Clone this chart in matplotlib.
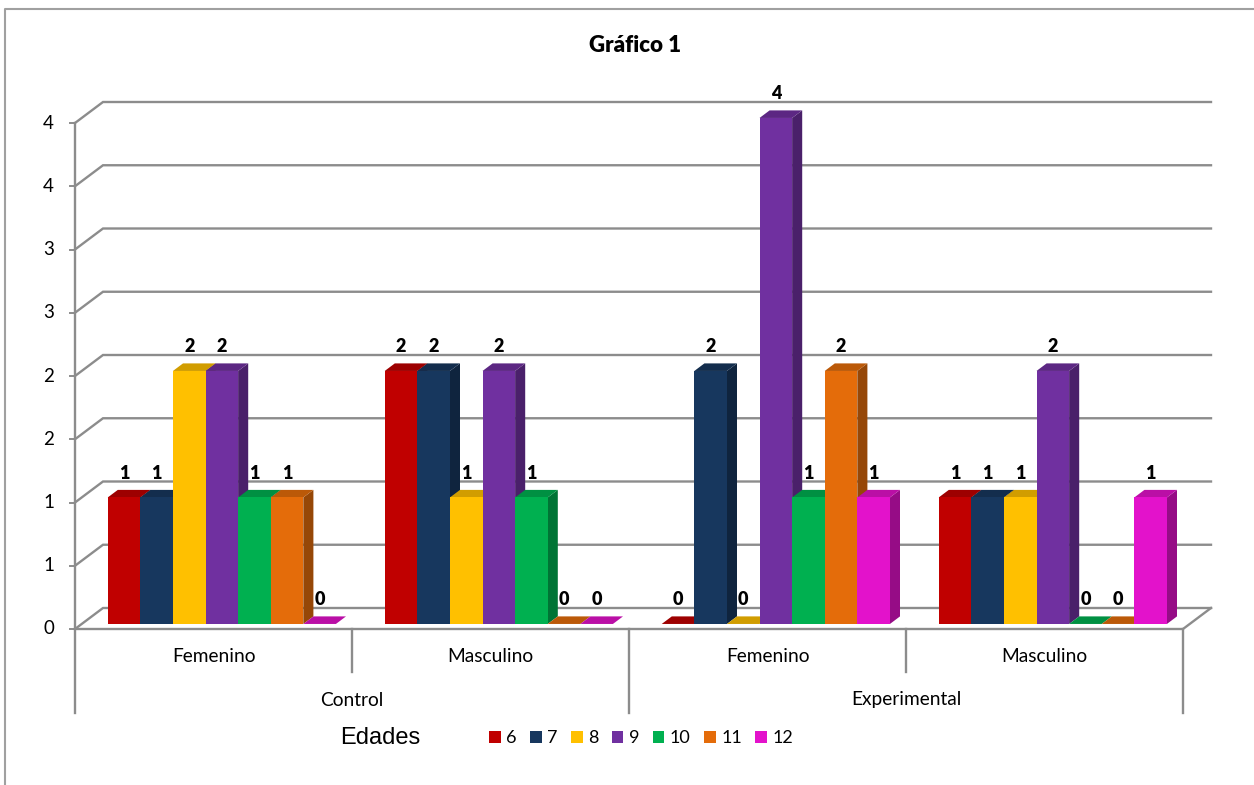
import matplotlib
matplotlib.use("Agg")
import numpy as np
import matplotlib.pyplot as plt
from matplotlib.patches import Polygon, Patch
from matplotlib.lines import Line2D
from matplotlib.colors import to_rgb

plt.rcParams['font.family'] = ['Lato', 'DejaVu Sans']

# datos
edades = ['6', '7', '8', '9', '10', '11', '12']
sexos = ['Femenino', 'Masculino', 'Femenino', 'Masculino']
grupos = ['Control', 'Experimental']
control_fem = [1, 1, 2, 2, 1, 1, 0]
control_masc = [2, 2, 1, 2, 1, 0, 0]
exp_fem = [0, 2, 0, 4, 1, 2, 1]
exp_masc = [1, 1, 1, 2, 0, 0, 1]
valores = [control_fem, control_masc, exp_fem, exp_masc]
y_ticks = [0, 0.5, 1, 1.5, 2, 2.5, 3, 3.5, 4]
colores = ['#C00000', '#17375E', '#FFC000', '#7030A0', '#00B050', '#E46C0A', '#E312CB']

W, H, DPI = 1254, 785, 100
GRIS = '#8c8c8c'

fig = plt.figure(figsize=(W / DPI, H / DPI), dpi=DPI)
ax = fig.add_axes([75 / W, 1 - 629 / H, 1108 / W, 506 / H])
ax.set_xlim(0, len(sexos))
ax.set_ylim(0, 4)
ax.axis('off')

# tamaño de un pixel en unidades de datos
px_x = len(sexos) / 1108
px_y = 4 / 506

# profundidad de la pared (efecto 3D)
DX, DY = 28 * px_x, 21 * px_y
F0, F1 = 0.24, 0.36          # posicion y fondo de las barras
BW = 32.6 * px_x              # ancho de barra
PAD = 26 * px_x


def oscuro(c, f):
    return tuple(np.array(to_rgb(c)) * f)


# lineas de division (pared del fondo)
for v in y_ticks:
    ax.plot([0, DX, len(sexos) + DX], [v + 0, v + DY, v + DY], color=GRIS, lw=1.7,
            clip_on=False, zorder=1, solid_joinstyle='miter')
    ax.plot([-5 * px_x, 0], [v, v], color=GRIS, lw=1.4, clip_on=False, zorder=1)
    ax.text(-21 * px_x, v, '%d' % np.floor(v + 0.5), ha='right', va='center',
            fontsize=13.5, color='black')

# piso
ax.plot([0, len(sexos), len(sexos) + DX], [0, 0, DY], color=GRIS, lw=1.7,
        clip_on=False, zorder=1)
ax.plot([0, 0], [-84 * px_y, 4], color=GRIS, lw=1.7, clip_on=False, zorder=1)
for k in range(1, len(sexos) + 1):
    largo = 84 if k % 2 == 0 else 43
    ax.plot([k, k], [0, -largo * px_y], color=GRIS, lw=1.7, clip_on=False, zorder=1)

# barras
for c, serie in enumerate(valores):
    for i, v in enumerate(serie):
        x0 = c + PAD + i * BW + F0 * DX
        y0 = F0 * DY
        dx, dy = F1 * DX, F1 * DY
        col = colores[i]
        ax.add_patch(Polygon([(x0 + BW, y0), (x0 + BW + dx, y0 + dy),
                              (x0 + BW + dx, y0 + v + dy), (x0 + BW, y0 + v)],
                             closed=True, facecolor=oscuro(col, 0.66), edgecolor='none',
                             clip_on=False, zorder=3))
        ax.add_patch(Polygon([(x0, y0 + v), (x0 + BW, y0 + v),
                              (x0 + BW + dx, y0 + v + dy), (x0 + dx, y0 + v + dy)],
                             closed=True, facecolor=oscuro(col, 0.82), edgecolor='none',
                             clip_on=False, zorder=3))
        ax.bar(x0, v, width=BW, bottom=y0, align='edge', color=col, clip_on=False, zorder=3)
        ax.annotate(str(v), (x0 + BW / 2, y0 + v), xytext=(0, 17.5), textcoords='offset points',
                    ha='center', va='center', fontsize=13, fontweight='heavy',
                    annotation_clip=False, zorder=5)

# etiquetas de categorias
for k, s in enumerate(sexos):
    ax.text(k + 0.5, -28 * px_y, s, ha='center', va='center', fontsize=13.8)
for k, g in enumerate(grupos):
    ax.text(2 * k + 1, -71 * px_y, g, ha='center', va='center', fontsize=13.8)

fig.suptitle('Gráfico 1', x=635 / W, y=1 - 46 / H, va='center', fontsize=16, fontweight='heavy')

# borde del grafico
fig.add_artist(Line2D([5 / W, 5 / W, 1], [0, 1 - 9 / H, 1 - 9 / H], transform=fig.transFigure,
                      color='#a0a0a0', lw=1.5))

# leyenda
fig.text(340 / W, 1 - 738 / H, 'Edades', family=['Liberation Sans', 'DejaVu Sans'],
         fontsize=17, va='center', ha='left')
handles = [Patch(facecolor=c, edgecolor='none', label=e) for c, e in zip(colores, edades)]
fig.legend(handles=handles, ncol=7, loc='center left', bbox_to_anchor=(489 / W, 1 - 738 / H),
           frameon=False, fontsize=13, handlelength=0.64, handleheight=0.64,
           handletextpad=0.3, columnspacing=0.75, borderaxespad=0, borderpad=0)

fig.savefig('out.png', dpi=DPI, facecolor='white')
